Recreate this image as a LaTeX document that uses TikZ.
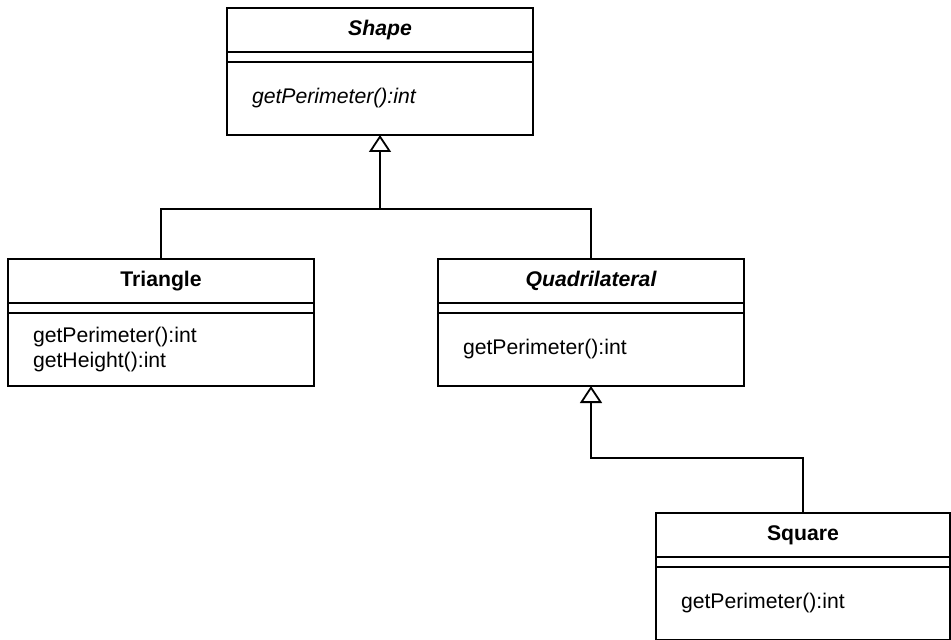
\documentclass[tikz,border=0pt]{standalone}
\usepackage{fontspec}
\setmainfont{Liberation Sans}
\usetikzlibrary{positioning,arrows.meta}

\tikzset{
  classname/.style={draw, line width=0.9pt, outer sep=0pt, anchor=north west,
    minimum width=153pt, minimum height=22pt, inner sep=0pt, font=\bfseries},
  attrbox/.style={draw, line width=0.9pt, outer sep=0pt,
    minimum width=153pt, minimum height=5pt, inner sep=0pt},
  opbox/.style={draw, line width=0.9pt, outer sep=0pt, align=left,
    text width=128pt, inner xsep=12.5pt, inner ysep=0pt, minimum height=36.5pt},
  inherit/.style={line width=0.9pt, -{Triangle[open, length=8.5pt, width=11pt]}},
  link/.style={line width=0.9pt}
}

\begin{document}
\begin{tikzpicture}[x=0.5pt, y=-0.5pt]
	\useasboundingbox (0,0) rectangle (951,640);
	\fontsize{10.6}{12.5}\selectfont
	% Shape
	\node[classname] (shape) at (227,8) {\itshape Shape};
	\node[attrbox, below=0pt of shape] (shapeattr) {};
	\node[opbox, below=0pt of shapeattr] (shapeops) {\itshape getPerimeter():int};
	% Triangle
	\node[classname] (tri) at (8,259) {Triangle};
	\node[attrbox, below=0pt of tri] (triattr) {};
	\node[opbox, below=0pt of triattr] (triops) {getPerimeter():int\\getHeight():int};
	% Quadrilateral
	\node[classname] (quad) at (438,259) {\itshape Quadrilateral};
	\node[attrbox, below=0pt of quad] (quadattr) {};
	\node[opbox, below=0pt of quadattr] (quadops) {getPerimeter():int};
	% Square
	\node[classname, minimum width=147pt] (square) at (656,513) {Square};
	\node[attrbox, minimum width=147pt, below=0pt of square] (squareattr) {};
	\node[opbox, text width=122pt, below=0pt of squareattr] (squareops) {getPerimeter():int};
	% generalisation
	\coordinate (fork) at (shapeops.south |- 0,209);
	\coordinate (bend) at (quadops.south |- 0,458);
	\draw[link] (tri.north) |- (fork);
	\draw[link] (quad.north) |- (fork);
	\draw[inherit] (fork) -- (shapeops.south);
	\draw[inherit] (square.north) |- (bend) -- (quadops.south);
\end{tikzpicture}
\end{document}
